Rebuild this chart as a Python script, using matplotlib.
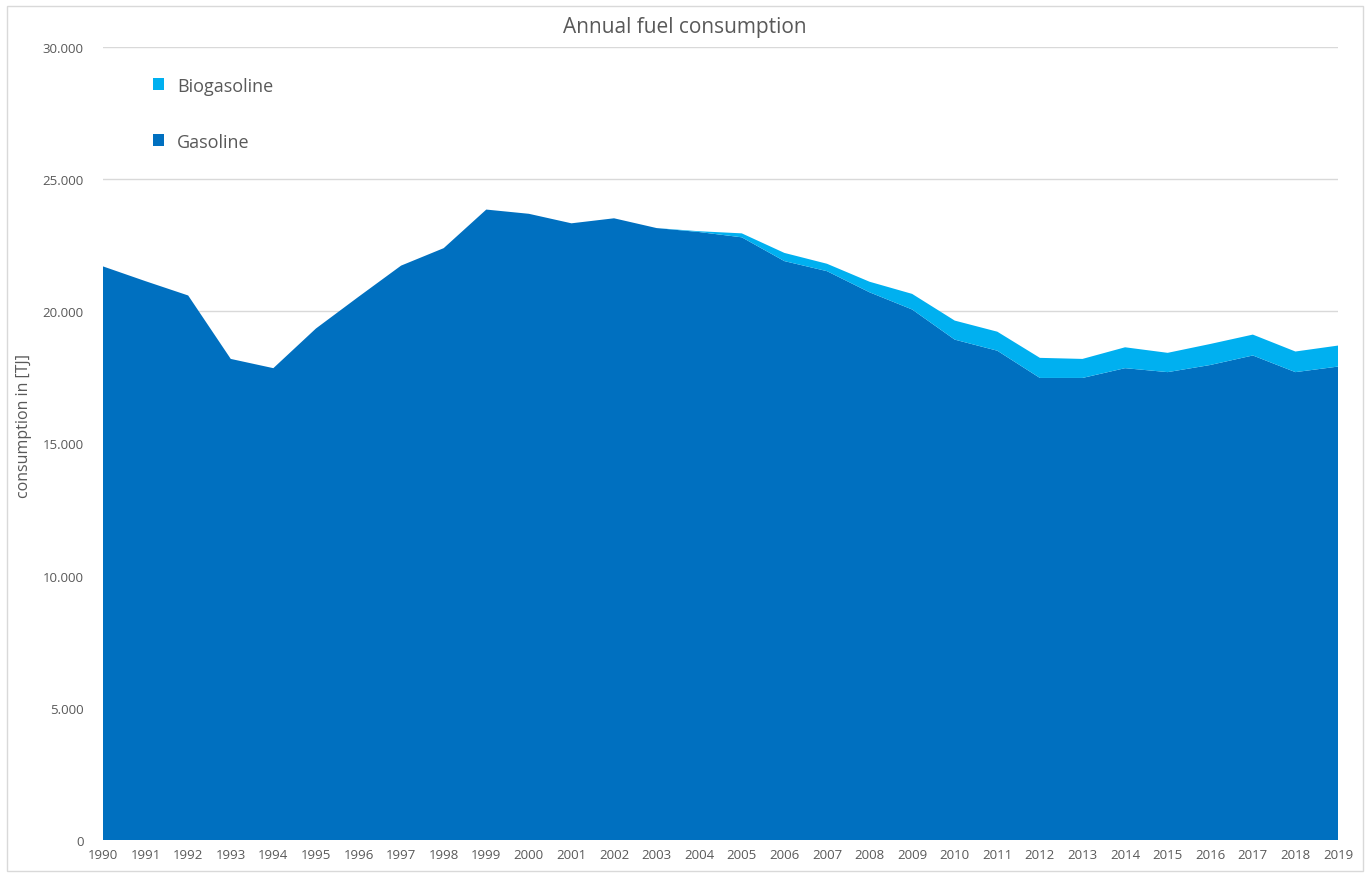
import matplotlib
matplotlib.use("Agg")
import matplotlib.pyplot as plt
from matplotlib.patches import Rectangle
from matplotlib.ticker import FuncFormatter

### DATA (TJ)
years = list(range(1990, 2020))
gasoline = [21700, 21140, 20600, 18200, 17850, 19350, 20550, 21730, 22390, 23850,
            23690, 23330, 23520, 23150, 23000, 22800, 21900, 21520, 20720, 20070,
            18930, 18510, 17480, 17480, 17850, 17700, 17970, 18330, 17700, 17910]
biogasoline = [0, 0, 0, 0, 0, 0, 0, 0, 0, 0,
               0, 0, 0, 0, 30, 150, 310, 280, 400, 590,
               720, 720, 760, 720, 790, 730, 795, 790, 780, 795]
series_names = ["Gasoline", "Biogasoline"]
series_colors = ["#0070C0", "#00B0F0"]

plt.rcParams["font.family"] = ["Open Sans", "DejaVu Sans"]
text_grey = "#595959"

### FIGURE
W, H = 1370, 879
fig = plt.figure(figsize=(W / 100, H / 100), dpi=100)
ax = fig.add_axes([103 / W, 1 - 841 / H, (1338 - 103) / W, (841 - 48) / H])

# Excel-like chart border
fig.patches.append(Rectangle((7 / W, 7 / H), 1 - 14 / W, 1 - 14 / H, transform=fig.transFigure,
                             fill=False, edgecolor="#D9D9D9", linewidth=1))

polys = ax.stackplot(years, gasoline, biogasoline, colors=series_colors,
                     labels=series_names, linewidth=0)

ax.set_xlim(years[0], years[-1])
ax.set_ylim(0, 30000)
ax.set_yticks(range(0, 30001, 5000))
ax.yaxis.set_major_formatter(FuncFormatter(lambda v, p: f"{int(v):,}".replace(",", ".")))
ax.set_xticks(years)

ax.grid(axis="y", color="#D9D9D9", linewidth=1)
ax.set_axisbelow(True)
for s in ax.spines.values():
    s.set_visible(False)
ax.tick_params(length=0, colors=text_grey, labelsize=9.5)
ax.tick_params(axis="y", pad=14)
ax.tick_params(axis="x", pad=6)

# axis title and chart title
fig.text(24 / W, 1 - 426 / H, "consumption in [TJ]", rotation=90, ha="center", va="center",
         fontsize=11.5, color=text_grey)
fig.text(0.5, 1 - 27 / H, "Annual fuel consumption", ha="center", va="center",
         fontsize=15, color=text_grey)

# Legend: Biogasoline on top
leg = ax.legend(polys[::-1], series_names[::-1], loc="upper left",
                bbox_to_anchor=(0.027, 0.983), frameon=False, fontsize=13,
                handlelength=0.65, handleheight=0.65, labelspacing=2.1,
                handletextpad=0.7)
for t in leg.get_texts():
    t.set_color(text_grey)

plt.savefig("out.png", dpi=100)
